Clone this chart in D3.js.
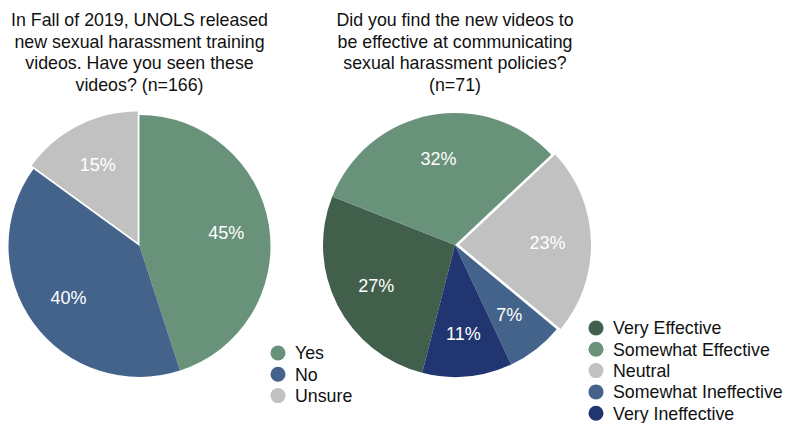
<!DOCTYPE html>
<html>
<head>
<meta charset="utf-8">
<script src="https://cdn.jsdelivr.net/npm/d3@7"></script>
<style>
  body { margin: 0; background: #fff; }
  text { font-family: Helvetica, Arial, "Liberation Sans", sans-serif; }
</style>
</head>
<body>
<div id="chart"></div>
<script>
// left pie: have you seen the videos
var seenLabels = ["Yes", "No", "Unsure"];
var seenValues = [45, 40, 15];
var seenColors = ["#69927a", "#43638b", "#c1c1c1"];
var seenTitle = ["In Fall of 2019, UNOLS released", "new sexual harassment training", "videos. Have you seen these", "videos? (n=166)"];

// right pie: were they effective
var effLabels = ["Very Effective", "Somewhat Effective", "Neutral", "Somewhat Ineffective", "Very Ineffective"];
var effValues = [27, 32, 23, 7, 11];
var effColors = ["#425f4b", "#69927a", "#c1c1c1", "#43638b", "#213670"];
var effTitle = ["Did you find the new videos to", "be effective at communicating", "sexual harassment policies?", "(n=71)"];

var svg = d3.select("#chart").append("svg")
    .attr("width", 790)
    .attr("height", 423);

function drawPie(cfg) {
    var g = svg.append("g")
        .attr("transform", "translate(" + cfg.cx + "," + cfg.cy + ")");

    var pie = d3.pie().sort(null)
        .startAngle(cfg.start)
        .endAngle(cfg.start + 2 * Math.PI)
        .value(function(d) { return d; });
    var arcs = pie(cfg.values);
    var arc = d3.arc().innerRadius(0).outerRadius(cfg.r);
    var labelArc = d3.arc().innerRadius(cfg.r * 0.67).outerRadius(cfg.r * 0.67);

    var color = d3.scaleOrdinal().domain(cfg.labels).range(cfg.colors);

    function shift(d, i) {
        if (i != cfg.explode) return "translate(0,0)";
        var mid = (d.startAngle + d.endAngle) / 2;
        return "translate(" + (Math.sin(mid) * 4) + "," + (-Math.cos(mid) * 4) + ")";
    }

    g.selectAll(".slice")
        .data(arcs)
        .enter().append("path")
        .attr("class", "slice")
        .attr("d", arc)
        .attr("transform", shift)
        .style("fill", function(d, i) { return color(cfg.labels[i]); });

    g.selectAll(".pct")
        .data(arcs)
        .enter().append("text")
        .attr("class", "pct")
        .attr("transform", function(d, i) {
            var c = labelArc.centroid(d);
            var mid = (d.startAngle + d.endAngle) / 2;
            var o = i == cfg.explode ? 4 : 0;
            return "translate(" + (c[0] + Math.sin(mid) * o) + "," + (c[1] - Math.cos(mid) * o) + ")";
        })
        .attr("text-anchor", "middle")
        .attr("dy", "0.36em")
        .style("font-size", "18px")
        .style("fill", "white")
        .text(function(d) { return d.data + "%"; });

    // title
    var t = svg.append("text")
        .attr("text-anchor", "middle")
        .style("font-size", "17.8px")
        .style("fill", "#111");
    for (var i = 0; i < cfg.title.length; ++i) {
        t.append("tspan")
            .attr("x", cfg.cx)
            .attr("y", 26 + i * 21.5)
            .text(cfg.title[i]);
    }

    // legend
    var leg = svg.append("g")
        .attr("transform", "translate(" + cfg.legX + "," + cfg.legY + ")");
    var item = leg.selectAll(".item")
        .data(cfg.labels)
        .enter().append("g")
        .attr("class", "item")
        .attr("transform", function(d, i) { return "translate(0," + (i * 21.3) + ")"; });
    item.append("circle")
        .attr("r", 7.5)
        .style("fill", function(d) { return color(d); });
    item.append("text")
        .attr("x", 17)
        .attr("dy", "0.36em")
        .style("font-size", "17.8px")
        .style("fill", "#111")
        .text(function(d) { return d; });
}

drawPie({
    cx: 139.5, cy: 246, r: 131, start: 0, explode: 2,
    values: seenValues, labels: seenLabels, colors: seenColors, title: seenTitle,
    legX: 278, legY: 353
});

drawPie({
    cx: 455, cy: 245, r: 132, start: 194.4 * Math.PI / 180, explode: 2,
    values: effValues, labels: effLabels, colors: effColors, title: effTitle,
    legX: 596, legY: 328
});
</script>
</body>
</html>
